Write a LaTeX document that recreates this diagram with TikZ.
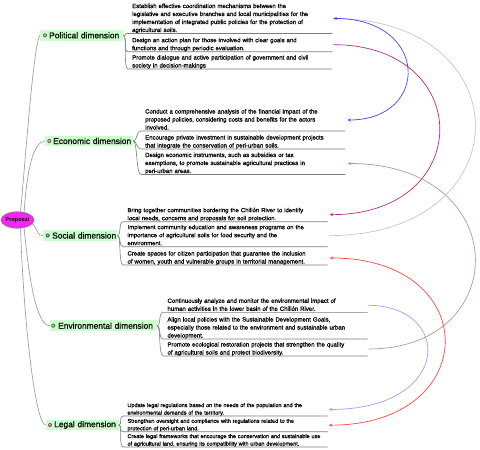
\documentclass[tikz,border=0pt]{standalone}
\usepackage{fontspec}
\setmainfont{Liberation Sans}
\newfontfamily\itemfont{Liberation Sans}[FakeBold=1.5]
\newfontfamily\dimfont{Liberation Sans}[FakeBold=1.2]
\usetikzlibrary{shapes.geometric,arrows.meta}
\definecolor{txt}{RGB}{10,10,10}
\definecolor{dimgreen}{RGB}{204,255,204}
\definecolor{propc}{RGB}{240,40,240}
\definecolor{branchc}{RGB}{150,150,150}
\definecolor{brkc}{RGB}{125,125,125}
\definecolor{relblue}{RGB}{70,70,255}
\definecolor{relmag}{RGB}{175,45,140}
\definecolor{relgrey}{RGB}{200,200,200}
\definecolor{relrose}{RGB}{190,150,150}
\definecolor{relred}{RGB}{255,70,70}
\definecolor{rellblue}{RGB}{160,160,255}
\newcommand\itl[1]{\mbox{#1}}
\begin{document}
\begin{tikzpicture}[x=1pt,y=-1pt,
  item/.style={anchor=south west, inner sep=0pt, text width=200pt, align=left,
    font=\itemfont\fontsize{6}{8}\selectfont, text=txt},
  litem/.style={item, font=\itemfont\fontsize{5.5}{7.5}\selectfont},
  dim/.style={fill=dimgreen, inner xsep=2pt, inner ysep=0pt, minimum height=10.7pt,
    anchor=west, align=left, font=\dimfont\fontsize{8.4}{10}\selectfont, text=txt},
  bul/.style={circle, inner sep=0pt, minimum size=4pt, shading=ball},
  branch/.style={draw=branchc, line width=0.6pt},
  brk/.style={draw=brkc, line width=0.6pt},
  rel/.style={line width=0.7pt},
  tip/.tip={Stealth[length=3.5pt,width=3pt]}
]
\fill[white] (0,0) rectangle (480,450);
\useasboundingbox (0,0) rectangle (480,450);

% central topic
\node[ellipse, fill=propc, draw=gray, minimum width=31pt, minimum height=16.6pt, inner sep=0pt,
  font=\bfseries\fontsize{5.5}{6}\selectfont, text=txt] (prop) at (17.5,220) {Proposal};

% dimension labels
\node[dim, text width=79pt] (pol) at (40,35.3) {\hspace*{7pt}\mbox{Political dimension}};
\node[dim, text width=84pt] (eco) at (45,141) {\hspace*{6pt}\mbox{Economic dimension}};
\node[dim, text width=70pt] (soc) at (43,235.5) {\hspace*{7pt}\mbox{Social dimension}};
\node[dim, text width=102.7pt] (env) at (50,325.7) {\hspace*{6pt}\mbox{Environmental dimension}};
\node[dim, text width=68.6pt] (leg) at (45.7,425) {\hspace*{6.3pt}\mbox{Legal dimension}};

\node[bul, ball color=violet!60] (polb) at (45,35.3) {};
\node[bul, ball color=brown!60!gray] (ecob) at (49.3,141) {};
\node[bul, ball color=blue!30!gray] (socb) at (47.7,235.5) {};
\node[bul, ball color=green!40!gray] (envb) at (53.3,325.7) {};
\node[bul, ball color=violet!60] (legb) at (50,425) {};

% items
\node[item] (p1) at (132,33.5) {\itl{Establish effective coordination mechanisms between the}\\\itl{legislative and executive branches and local municipalities for the}\\\itl{implementation of integrated public policies for the protection of}\\\itl{agricultural soils.}\rule[-1.3pt]{0pt}{1pt}};
\node[item] (p2) at (132,51.7) {\itl{Design an action plan for those involved with clear goals and}\\\itl{functions and through periodic evaluation.}\rule[-1.3pt]{0pt}{1pt}};
\node[item] (p3) at (132,69) {\itl{Promote dialogue and active participation of government and civil}\\\itl{society in decision-makings}\rule[-1.3pt]{0pt}{1pt}};

\node[item] (e1) at (145,131) {\itl{Conduct a comprehensive analysis of the financial impact of the}\\\itl{proposed policies, considering costs and benefits for the actors}\\\itl{involved.}\rule[-1.3pt]{0pt}{1pt}};
\node[item] (e2) at (145,149) {\itl{Encourage private investment in sustainable development projects}\\\itl{that integrate the conservation of peri-urban soils.}\rule[-1.3pt]{0pt}{1pt}};
\node[item] (e3) at (145,174.5) {\itl{Design economic instruments, such as subsidies or tax}\\\itl{exemptions, to promote sustainable agricultural practices in}\\\itl{peri-urban areas.}\rule[-1.3pt]{0pt}{1pt}};

\node[item] (s1) at (127.3,221.7) {\itl{Bring together communities bordering the Chillón River to identify}\\\itl{local needs, concerns and proposals for soil protection.}\rule[-1.3pt]{0pt}{1pt}};
\node[item] (s2) at (127.3,246.7) {\itl{Implement community education and awareness programs on the}\\\itl{importance of agricultural soils for food security and the}\\\itl{environment.}\rule[-1.3pt]{0pt}{1pt}};
\node[item] (s3) at (127.3,265) {\itl{Create spaces for citizen participation that guarantee the inclusion}\\\itl{of women, youth and vulnerable groups in territorial management.}\rule[-1.3pt]{0pt}{1pt}};

\node[item] (n1) at (167.3,312.3) {\itl{Continuously analyze and monitor the environmental impact of}\\\itl{human activities in the lower basin of the Chillón River.}\rule[-1.3pt]{0pt}{1pt}};
\node[item] (n2) at (167.3,339) {\itl{Align local policies with the Sustainable Development Goals,}\\\itl{especially those related to the environment and sustainable urban}\\\itl{development.}\rule[-1.3pt]{0pt}{1pt}};
\node[item] (n3) at (167.3,356) {\itl{Promote ecological restoration projects that strengthen the quality}\\\itl{of agricultural soils and protect biodiversity.}\rule[-1.3pt]{0pt}{1pt}};

\node[litem] (l1) at (127.3,416) {\itl{Update legal regulations based on the needs of the population and the}\\\itl{environmental demands of the territory.}\rule[-1.2pt]{0pt}{1pt}};
\node[litem] (l2) at (127.3,431.7) {\itl{Strengthen oversight and compliance with regulations related to the}\\\itl{protection of peri-urban land.}\rule[-1.2pt]{0pt}{1pt}};
\node[litem] (l3) at (127.3,447) {\itl{Create legal frameworks that encourage the conservation and sustainable use}\\\itl{of agricultural land, ensuring its compatibility with urban development.}\rule[-1.2pt]{0pt}{1pt}};

% main branches
\draw[branch] (prop.70) .. controls (27,140) and (34,42) .. (pol.west);
\draw[branch] (prop.50) .. controls (27,170) and (33,142) .. (eco.west);
\draw[branch] (prop.-15) .. controls (38,228) and (36,235.5) .. (soc.west);
\draw[branch] (prop.-50) .. controls (30,290) and (38,325.7) .. (env.west);
\draw[branch] (prop.-70) .. controls (24,330) and (36,425) .. (leg.west);

% sub-branches with underlines
\foreach \d/\i in {pol/p1,pol/p2,pol/p3,eco/e1,eco/e2,eco/e3,soc/s1,soc/s2,soc/s3,env/n1,env/n2,env/n3,leg/l1,leg/l2,leg/l3}{
  \draw[brk] (\d.east) .. controls +(4,0) and +(-5,0) .. ([xshift=-4pt]\i.south west) -- (\i.south east);
}

% relationships
\draw[rel, relgrey] ([xshift=1pt]p1.east) .. controls +(190,0) and +(195,0) .. ([xshift=1pt]s2.east);
\draw[rel, relblue, tip-tip] ([xshift=1pt]p1.east) .. controls +(96,0) and +(83,0) .. ([xshift=2pt]e1.east);
\draw[rel, relmag, -tip] ([xshift=1pt]p2.east) .. controls +(142,0) and +(146,0) .. ([xshift=2pt]s1.east);
\draw[rel, relrose, -tip] ([xshift=1pt]n3.east) .. controls +(145,0) and +(167,0) .. ([xshift=2pt]e3.east);
\draw[rel, relred, tip-tip] ([xshift=2pt]s3.east) .. controls +(154,0) and +(154,0) .. ([xshift=1pt]l2.east);
\draw[rel, rellblue, -tip] ([xshift=0pt]n1.east) .. controls +(86,0) and +(124,0) .. ([xshift=1pt]l1.east);
\end{tikzpicture}
\end{document}
